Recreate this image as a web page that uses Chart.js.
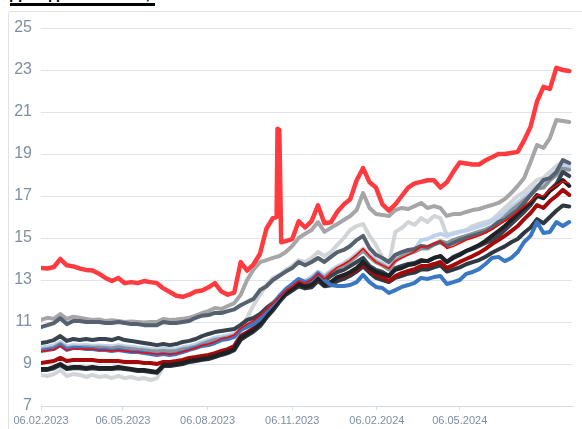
<!DOCTYPE html>
<html>
<head>
<meta charset="utf-8">
<script src="https://cdn.jsdelivr.net/npm/chart.js@4.4.0/dist/chart.umd.min.js"></script>
<style>
  html, body { margin: 0; padding: 0; background: #fff; overflow: hidden; }
  body { width: 582px; height: 429px; position: relative; font-family: "Liberation Sans", Arial, sans-serif; }
  .titulo { position: absolute; left: 10px; top: -14px; width: 145px; overflow: hidden; font-size: 16px; font-weight: bold; line-height: 15px; color: #000; border-bottom: 3px solid #000; padding-bottom: 2px; white-space: nowrap; }
  .moldura { position: absolute; left: 8px; top: 11px; width: 600px; height: 440px; border: 1px solid #dfe3e8; border-radius: 3px; }
  #grafico { position: absolute; left: 0; top: 0; }
</style>
</head>
<body>
<div class="titulo">Доходность ОФЗ, %</div>
<div class="moldura"></div>
<canvas id="grafico" width="582" height="429"></canvas>
<script>
// dias contados a partir de 06.02.2023
const dias = [
  0, 7, 14, 21, 28, 35, 42, 49, 56, 63, 70, 77, 84, 91, 98, 105, 112, 119, 126, 133,
  140, 147, 154, 161, 168, 175, 182, 189, 196, 203, 210, 217, 224, 231, 238, 245, 252, 259, 266, 273,
  280, 287, 294, 301, 308, 315, 322, 329, 336, 343, 350, 357, 364, 371, 378, 385, 392, 399, 406, 413,
  420, 427, 434, 441, 448, 455, 462, 469, 476, 483, 490, 497, 504, 511, 518, 525, 532, 539, 546, 553,
  560, 567, 574
];

// a série vermelha tem pontos extras no salto de outubro
const diasVermelho = [
  0, 7, 14, 21, 28, 35, 42, 49, 56, 63, 70, 77, 84, 91, 98, 105, 112, 119, 126, 133,
  140, 147, 154, 161, 168, 175, 182, 189, 196, 203, 210, 217, 224, 231, 238, 245, 252,
  256, 257, 259, 261,
  266, 273, 280, 287, 294, 301, 308, 315, 322, 329, 336, 343, 350, 357, 364, 371, 378, 385, 392, 399,
  406, 413, 420, 427, 434, 441, 448, 455, 462, 469, 476, 483, 490, 497, 504, 511, 518, 525, 532, 539,
  546, 553, 560, 567, 574
];

const tickDias = [0, 89, 181, 273, 365, 455];
const tickRotulos = ["06.02.2023", "06.05.2023", "06.08.2023", "06.11.2023", "06.02.2024", "06.05.2024"];

const vermelho = [
  13.57, 13.55, 13.62, 14.0, 13.7, 13.65, 13.55, 13.48, 13.45, 13.3,
  13.1, 12.95, 13.1, 12.85, 12.9, 12.85, 12.95, 12.9, 12.85, 12.6,
  12.43, 12.25, 12.2, 12.3, 12.45, 12.5, 12.65, 12.85, 12.45, 12.3,
  12.4, 13.85, 13.45, 13.75, 14.25, 15.45, 15.95,
  16.0, 20.2, 20.15, 14.8,
  14.85, 14.95, 15.8, 15.5, 15.8, 16.55, 15.7, 15.75, 16.25, 16.6,
  16.85, 17.75, 18.33, 17.65, 17.4, 16.6, 16.3, 16.6, 17.0, 17.4,
  17.6, 17.67, 17.75, 17.75, 17.4, 17.65, 18.15, 18.6, 18.55, 18.5,
  18.5, 18.7, 18.85, 19.0, 19.0, 19.05, 19.1, 19.65, 20.3, 21.5,
  22.2, 22.1, 23.1, 23.0, 22.95
];

const cinza = [
  11.1, 11.2, 11.15, 11.38, 11.15, 11.25, 11.2, 11.15, 11.1, 11.12,
  11.05, 11.08, 11.05, 11.0, 11.02, 11.0, 10.98, 11.0, 11.0, 11.15,
  11.1, 11.12, 11.15, 11.2, 11.3, 11.43, 11.52, 11.67, 11.62, 11.76,
  11.9, 12.3, 13.0, 13.5, 13.85, 13.95, 14.05, 14.14, 14.33, 14.62,
  15.0, 15.2, 15.38, 15.76, 15.29, 15.48, 15.67, 15.86, 16.05, 16.33,
  17.14, 16.43, 16.14, 16.1, 16.05, 16.33, 16.43, 16.38, 16.52, 16.67,
  16.43, 16.52, 16.43, 16.05, 16.14, 16.14, 16.24, 16.33, 16.38, 16.48,
  16.57, 16.67, 16.86, 17.14, 17.48, 17.86, 18.62, 19.43, 19.29, 19.76,
  20.62, 20.57, 20.52
];

const cinzaClaro = [
  8.48, 8.43, 8.52, 8.71, 8.43, 8.52, 8.48, 8.38, 8.48, 8.38,
  8.43, 8.33, 8.43, 8.33, 8.38, 8.29, 8.33, 8.24, 8.33, 8.9,
  8.9, 8.95, 9.0, 9.05, 9.14, 9.19, 9.29, 9.38, 9.52, 9.67,
  9.86, 10.62, 11.2, 11.8, 12.3, 12.76, 13.1, 13.24, 13.48, 13.67,
  13.95, 13.86, 14.05, 14.33, 14.14, 14.33, 14.67, 15.0, 15.38, 15.57,
  15.67, 15.1, 14.67, 14.05, 13.76, 15.29, 15.48, 15.76, 15.62, 15.95,
  15.76, 16.05, 15.95, 15.14, 15.24, 15.29, 15.38, 15.57, 15.67, 15.76,
  15.86, 16.14, 16.43, 16.71, 17.0, 17.19, 17.48, 17.76, 17.86, 18.14,
  18.43, 18.62, 18.52
];

const ardosia = [
  10.76, 10.85, 10.95, 11.18, 10.9, 11.05, 11.05, 11.0, 11.0, 11.0,
  10.95, 10.95, 11.0, 10.95, 10.9, 10.9, 10.85, 10.85, 10.85, 11.0,
  10.95, 10.95, 11.0, 11.05, 11.2, 11.3, 11.33, 11.43, 11.43, 11.52,
  11.6, 11.8, 11.95, 12.1, 12.52, 12.7, 13.0, 13.2, 13.4, 13.57,
  13.86, 13.7, 13.86, 14.05, 13.86, 14.1, 14.33, 14.43, 14.62, 14.9,
  15.1, 14.52, 14.2, 14.05, 13.86, 14.2, 14.33, 14.43, 14.48, 14.62,
  14.57, 14.7, 14.8, 14.62, 14.76, 14.9, 15.0, 15.1, 15.2, 15.29,
  15.48, 15.76, 15.86, 16.1, 16.33, 16.67, 17.05, 17.4, 17.76, 17.85,
  18.14, 18.71, 18.57
];

const grafite = [
  10.0, 10.05, 10.14, 10.33, 10.1, 10.19, 10.14, 10.19, 10.14, 10.19,
  10.19, 10.14, 10.24, 10.14, 10.1, 10.05, 10.0, 9.95, 9.9, 9.95,
  9.9, 9.95, 10.05, 10.1, 10.19, 10.33, 10.43, 10.52, 10.57, 10.62,
  10.67, 10.86, 11.1, 11.19, 11.38, 11.67, 11.9, 12.19, 12.48, 12.71,
  12.9, 12.81, 13.0, 13.19, 12.95, 13.19, 13.38, 13.48, 13.67, 13.86,
  14.05, 13.67, 13.48, 13.38, 13.19, 13.57, 13.67, 13.76, 13.81, 13.95,
  13.9, 14.05, 14.14, 13.86, 14.1, 14.24, 14.38, 14.48, 14.62, 14.76,
  14.9, 15.1, 15.38, 15.67, 15.95, 16.24, 16.57, 17.0, 16.9, 17.29,
  17.57, 18.14, 17.95
];

const azulClaro = [
  9.78, 9.82, 9.88, 10.05, 9.85, 9.9, 9.88, 9.9, 9.87, 9.88,
  9.86, 9.84, 9.9, 9.85, 9.82, 9.78, 9.75, 9.72, 9.7, 9.72,
  9.7, 9.72, 9.8, 9.85, 9.92, 10.05, 10.15, 10.25, 10.3, 10.36,
  10.45, 10.7, 10.95, 11.1, 11.35, 11.65, 11.9, 12.2, 12.5, 12.75,
  13.0, 12.95, 13.15, 13.4, 13.2, 13.45, 13.65, 13.8, 14.0, 14.25,
  14.5, 14.2, 13.95, 13.8, 13.6, 14.0, 14.2, 14.35, 14.45, 14.9,
  14.95, 15.1, 15.2, 15.1, 15.2, 15.3, 15.35, 15.45, 15.55, 15.65,
  15.8, 16.0, 16.2, 16.45, 16.7, 16.95, 17.2, 17.5, 17.55, 17.9,
  18.15, 18.45, 18.4
];

const cinzaMedio = [
  9.68, 9.72, 9.78, 9.95, 9.75, 9.8, 9.78, 9.8, 9.77, 9.78,
  9.76, 9.74, 9.8, 9.75, 9.72, 9.68, 9.65, 9.62, 9.6, 9.62,
  9.6, 9.62, 9.7, 9.75, 9.82, 9.95, 10.05, 10.15, 10.2, 10.26,
  10.35, 10.6, 10.85, 11.0, 11.25, 11.55, 11.8, 12.1, 12.4, 12.65,
  12.9, 12.85, 13.05, 13.3, 13.1, 13.35, 13.55, 13.7, 13.9, 14.15,
  14.4, 14.1, 13.85, 13.7, 13.5, 13.9, 14.1, 14.25, 14.35, 14.5,
  14.5, 14.7, 14.85, 14.75, 14.9, 15.0, 15.1, 15.2, 15.3, 15.4,
  15.55, 15.75, 16.0, 16.3, 16.55, 16.8, 17.05, 17.35, 17.4, 17.75,
  18.0, 18.3, 18.25
];

const azul = [
  9.62, 9.67, 9.71, 9.9, 9.67, 9.76, 9.76, 9.71, 9.71, 9.67,
  9.67, 9.62, 9.67, 9.62, 9.57, 9.57, 9.52, 9.48, 9.43, 9.48,
  9.43, 9.48, 9.57, 9.67, 9.76, 9.86, 9.9, 10.0, 10.14, 10.19,
  10.29, 10.62, 10.76, 10.9, 11.14, 11.52, 11.86, 12.24, 12.57, 12.81,
  13.05, 12.9, 13.0, 13.33, 13.0, 12.76, 12.71, 12.71, 12.76, 12.9,
  13.24, 12.9, 12.67, 12.62, 12.38, 12.52, 12.67, 12.76, 12.86, 13.1,
  13.05, 13.14, 13.19, 12.81, 12.9, 13.0, 13.29, 13.38, 13.52, 13.76,
  14.05, 14.1, 13.9, 14.05, 14.33, 14.81, 15.1, 15.76, 15.24, 15.29,
  15.76, 15.57, 15.76
];

const vinho = [
  9.05, 9.1, 9.14, 9.29, 9.14, 9.19, 9.19, 9.19, 9.19, 9.14,
  9.14, 9.14, 9.14, 9.1, 9.1, 9.1, 9.05, 9.05, 9.0, 9.1,
  9.1, 9.14, 9.19, 9.29, 9.33, 9.38, 9.43, 9.52, 9.62, 9.71,
  9.86, 10.33, 10.52, 10.71, 11.0, 11.38, 11.76, 12.14, 12.43, 12.62,
  12.81, 12.67, 12.76, 13.05, 12.81, 12.9, 13.1, 13.19, 13.33, 13.48,
  13.76, 13.48, 13.24, 13.14, 12.95, 13.19, 13.33, 13.43, 13.52, 13.67,
  13.67, 13.76, 13.86, 13.57, 13.71, 13.86, 14.0, 14.14, 14.29, 14.48,
  14.71, 14.9, 15.1, 15.33, 15.57, 15.9, 16.19, 16.57, 16.43, 16.76,
  17.0, 17.29, 17.05
];

const vermelhoFino = [
  9.6, 9.64, 9.68, 9.85, 9.65, 9.72, 9.72, 9.7, 9.7, 9.66,
  9.66, 9.62, 9.65, 9.62, 9.58, 9.57, 9.53, 9.5, 9.46, 9.5,
  9.46, 9.5, 9.58, 9.66, 9.76, 9.88, 9.95, 10.05, 10.2, 10.26,
  10.38, 10.7, 10.9, 11.05, 11.3, 11.6, 11.9, 12.2, 12.5, 12.7,
  12.95, 12.85, 13.0, 13.3, 13.05, 13.35, 13.6, 13.75, 13.95, 14.2,
  14.5, 14.15, 13.85, 13.7, 13.55, 13.9, 14.05, 14.2, 14.35, 14.6,
  14.6, 14.75, 14.85, 14.5, 14.6, 14.75, 14.9, 15.0, 15.1, 15.25,
  15.4, 15.6, 15.8, 16.0, 16.25, 16.5, 16.75, 17.05, 17.0, 17.3,
  17.5, 17.7, 17.6
];

const preto = [
  8.76, 8.76, 8.86, 9.0, 8.81, 8.86, 8.86, 8.81, 8.86, 8.81,
  8.81, 8.81, 8.86, 8.81, 8.76, 8.71, 8.71, 8.67, 8.62, 8.95,
  8.95, 9.0, 9.05, 9.14, 9.19, 9.24, 9.29, 9.38, 9.48, 9.57,
  9.71, 10.24, 10.43, 10.62, 10.9, 11.29, 11.67, 12.05, 12.38, 12.57,
  12.81, 12.67, 12.76, 13.1, 12.76, 12.9, 13.14, 13.24, 13.38, 13.57,
  13.86, 13.57, 13.38, 13.29, 13.19, 13.48, 13.57, 13.71, 13.76, 13.9,
  13.9, 14.05, 14.14, 13.86, 14.05, 14.19, 14.38, 14.52, 14.67, 14.86,
  15.1, 15.33, 15.57, 15.86, 16.14, 16.43, 16.67, 17.05, 16.9, 17.24,
  17.48, 17.76, 17.48
];

const grafiteEscuro = [
  8.72, 8.72, 8.8, 8.95, 8.76, 8.8, 8.8, 8.76, 8.8, 8.76,
  8.76, 8.76, 8.8, 8.76, 8.72, 8.67, 8.67, 8.62, 8.58, 8.9,
  8.9, 8.95, 9.0, 9.1, 9.14, 9.2, 9.24, 9.33, 9.43, 9.52,
  9.66, 10.15, 10.35, 10.55, 10.8, 11.2, 11.55, 11.95, 12.3, 12.5,
  12.7, 12.6, 12.65, 12.95, 12.7, 12.75, 12.95, 13.05, 13.2, 13.4,
  13.65, 13.35, 13.1, 13.0, 12.9, 13.1, 13.2, 13.3, 13.35, 13.5,
  13.5, 13.6, 13.7, 13.4, 13.5, 13.6, 13.75, 13.85, 13.95, 14.1,
  14.3, 14.45, 14.6, 14.8, 14.95, 15.25, 15.5, 15.9, 15.7, 16.0,
  16.3, 16.55, 16.5
];

function serie(nome, xs, valores, cor, largura) {
  return {
    label: nome,
    data: valores.map((v, i) => ({ x: xs[i], y: v })),
    borderColor: cor,
    backgroundColor: cor,
    borderWidth: largura,
    fill: false,
    pointRadius: 0,
    tension: 0
  };
}

// a primeira série fica por cima
const series = [
  serie("vermelho", diasVermelho, vermelho, "#ff3b3f", 4.5),
  serie("vermelhoFino", dias, vermelhoFino, "#ff0000", 1.5),
  serie("azul", dias, azul, "#3b78c4", 4),
  serie("preto", dias, preto, "#1d2227", 4),
  serie("vinho", dias, vinho, "#a50a0a", 4),
  serie("grafiteEscuro", dias, grafiteEscuro, "#2e3842", 4),
  serie("grafite", dias, grafite, "#39444f", 4),
  serie("ardosia", dias, ardosia, "#56626f", 4),
  serie("cinzaMedio", dias, cinzaMedio, "#8d939a", 4),
  serie("azulClaro", dias, azulClaro, "#bcd2ec", 4),
  serie("cinza", dias, cinza, "#a6a6a8", 4),
  serie("cinzaClaro", dias, cinzaClaro, "#d2d5d8", 4)
];

const corTexto = "#7f8fa1";

new Chart(document.getElementById("grafico"), {
  type: "line",
  data: { datasets: series },
  options: {
    responsive: false,
    animation: false,
    events: [],
    layout: { padding: { left: 0, top: 28, right: 10, bottom: 0 } },
    plugins: {
      legend: { display: false },
      tooltip: { enabled: false }
    },
    elements: {
      line: { borderJoinStyle: "round", borderCapStyle: "round" }
    },
    scales: {
      x: {
        type: "linear",
        min: 0,
        max: 577,
        afterBuildTicks: eixo => { eixo.ticks = tickDias.map(v => ({ value: v })); },
        afterFit: eixo => { eixo.height = 23; },
        grid: { drawOnChartArea: false, drawTicks: true, tickLength: 4, color: "#d5dbe2" },
        border: { display: true, color: "#d5dbe2" },
        ticks: {
          autoSkip: false,
          maxRotation: 0,
          padding: 4,
          color: corTexto,
          font: { family: "Liberation Sans", size: 11 },
          callback: valor => {
            const i = tickDias.indexOf(valor);
            return i >= 0 ? tickRotulos[i] : "";
          }
        }
      },
      y: {
        min: 7,
        max: 25,
        afterFit: eixo => { eixo.width = 41; },
        grid: { color: "#dfe4ea", drawTicks: false },
        border: { display: false },
        ticks: {
          stepSize: 2,
          padding: 9,
          color: corTexto,
          font: { family: "Liberation Sans", size: 16 }
        }
      }
    }
  }
});
</script>
</body>
</html>
